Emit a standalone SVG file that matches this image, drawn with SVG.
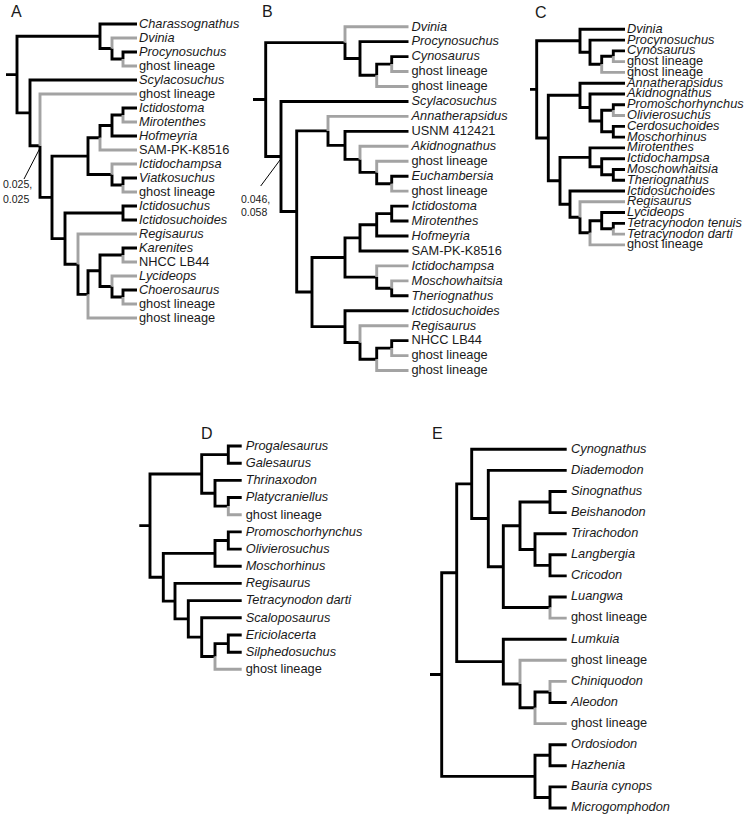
<svg xmlns="http://www.w3.org/2000/svg" width="748" height="816" viewBox="0 0 748 816">
<style>
.k{fill:none;stroke:#000;stroke-width:2.9;stroke-linejoin:miter;stroke-linecap:butt}
.g{fill:none;stroke:#a3a3a3;stroke-width:2.9;stroke-linejoin:miter;stroke-linecap:butt}
.ld{fill:none;stroke:#000;stroke-width:1}
text{font-family:"Liberation Sans",Arial,sans-serif;font-size:12.8px;fill:#1a1a1a}
.i{font-style:italic}
.lab{font-size:16px}
.num{font-size:10.5px}
</style>
<rect width="748" height="816" fill="#fff"/>
<g id="connectors">
<g id="conn-A">
<path class="k" d="M6 74.6H17 M17 74.6V36.25H100 M17 74.6V112.9H30 M100 36.25V24H137 M100 36.25V48.5H112 M112 48.5V59H123 M123 59V52H137 M30 112.9V80H137 M30 112.9V145.7H40 M40 145.7V197.4H52 M52 197.4V156.1H88 M52 197.4V238.6H65 M88 156.1V137.75H100 M88 156.1V174.5H112 M100 137.75V125.5H112 M112 125.5V115H123 M112 125.5V136H137 M123 115V108H137 M112 174.5V185H123 M123 185V178H137 M65 238.6V213H123 M65 238.6V264.2H78 M123 213V206H137 M123 213V220H137 M78 264.2V294.4H88 M88 294.4V270.75H100 M100 270.75V255H123 M100 270.75V286.5H112 M123 255V248H137 M112 286.5V297H123 M123 297V290H137"/>
<path class="g" d="M112 48.5V38H137 M123 59V66H137 M40 145.7V94H137 M100 137.75V150H137 M123 115V122H137 M112 174.5V164H137 M123 185V192H137 M78 264.2V234H137 M88 294.4V318H137 M123 255V262H137 M112 286.5V276H137 M123 297V304H137"/>
<path class="ld" d="M24 179L39.5 149"/>
</g>
<g id="conn-B">
<path class="k" d="M253 99.5H265.7 M265.7 99.5V42.6H345 M265.7 99.5V156.5H281 M345 42.6V58.5H360 M360 58.5V41.65H408.5 M360 58.5V75.3H376.7 M376.7 75.3V64.1H391.7 M391.7 64.1V56.6H408.5 M281 156.5V101.45H408.5 M281 156.5V211.5H296.7 M296.7 211.5V130.9H328 M296.7 211.5V292H312 M328 130.9V145.4H345 M345 145.4V131.35H408.5 M345 145.4V159.4H360 M360 159.4V172.4H376.7 M376.7 172.4V183.7H391.7 M391.7 183.7V176.2H408.5 M312 292V257.5H345 M312 292V326.6H345 M345 257.5V237.9H360 M345 257.5V277.1H376.7 M360 237.9V224.8H376.7 M360 237.9V250.95H408.5 M376.7 224.8V213.6H391.7 M376.7 224.8V236H408.5 M391.7 213.6V206.1H408.5 M391.7 213.6V221.05H408.5 M376.7 277.1V288.3H391.7 M391.7 288.3V295.8H408.5 M345 326.6V310.75H408.5 M345 326.6V342.5H360 M360 342.5V359.3H376.7 M376.7 359.3V348.1H391.7 M391.7 348.1V340.65H408.5"/>
<path class="g" d="M345 42.6V26.7H408.5 M376.7 75.3V86.5H408.5 M391.7 64.1V71.55H408.5 M328 130.9V116.4H408.5 M360 159.4V146.3H408.5 M376.7 172.4V161.25H408.5 M391.7 183.7V191.15H408.5 M376.7 277.1V265.9H408.5 M391.7 288.3V280.85H408.5 M360 342.5V325.7H408.5 M376.7 359.3V370.55H408.5 M391.7 348.1V355.6H408.5"/>
<path class="ld" d="M260.7 186L280 160"/>
</g>
<g id="conn-C">
<path class="k" d="M530 89.4H536.7 M536.7 89.4V40.8H580 M536.7 89.4V138H548.3 M580 40.8V29.3H625 M580 40.8V52.3H590 M590 52.3V40.08H625 M590 52.3V64.3H601.7 M601.7 64.3V56.25H613.3 M613.3 56.25V50.86H625 M548.3 138V95.3H580 M548.3 138V180.8H560 M580 95.3V83.2H625 M580 95.3V107.5H590 M590 107.5V94H625 M590 107.5V121H601.7 M601.7 121V110.2H613.3 M601.7 121V131.7H613.3 M613.3 110.2V104.78H625 M613.3 131.7V126.34H625 M613.3 131.7V137.12H625 M560 180.8V157.4H590 M560 180.8V204.2H570 M590 157.4V147.9H625 M590 157.4V166.8H601.7 M601.7 166.8V158.68H625 M601.7 166.8V174.8H613.3 M613.3 174.8V169.46H625 M613.3 174.8V180.24H625 M570 204.2V191.02H625 M570 204.2V217.3H580 M580 217.3V232.8H590 M590 232.8V220.7H601.7 M601.7 220.7V212.56H625 M601.7 220.7V228.7H613.3 M613.3 228.7V223.34H625"/>
<path class="g" d="M601.7 64.3V72.42H625 M613.3 56.25V61.64H625 M613.3 110.2V115.56H625 M580 217.3V201.8H625 M590 232.8V244.9H625 M613.3 228.7V234.12H625"/>
</g>
<g id="conn-D">
<path class="k" d="M139.3 525.6H150 M150 525.6V474H201.7 M150 525.6V577.3H163.3 M201.7 474V454.6H228.3 M201.7 474V493.3H215 M228.3 454.6V446H241.7 M228.3 454.6V463.2H241.7 M215 493.3V480.4H241.7 M215 493.3V506.1H228.3 M228.3 506.1V497.5H241.7 M163.3 577.3V553.4H215 M163.3 577.3V601.1H175 M215 553.4V540.5H228.3 M215 553.4V566.3H241.7 M228.3 540.5V531.9H241.7 M228.3 540.5V549.1H241.7 M175 601.1V583.4H241.7 M175 601.1V618.9H188.3 M188.3 618.9V600.6H241.7 M188.3 618.9V637.1H201.7 M201.7 637.1V617.8H241.7 M201.7 637.1V656.5H215 M215 656.5V643.6H228.3 M228.3 643.6V635H241.7 M228.3 643.6V652.2H241.7"/>
<path class="g" d="M228.3 506.1V514.7H241.7 M215 656.5V669.3H241.7"/>
</g>
<g id="conn-E">
<path class="k" d="M430 674.55H441.7 M441.7 674.55V572.75H456.7 M441.7 674.55V776.35H535 M456.7 572.75V483.9H471.7 M456.7 572.75V661.6H503.3 M471.7 483.9V449.3H566.7 M471.7 483.9V518.5H488.3 M488.3 518.5V470.4H566.7 M488.3 518.5V566.7H503.3 M503.3 566.7V525.8H520 M503.3 566.7V607.55H550 M520 525.8V502.05H550 M520 525.8V549.5H535 M550 502.05V491.5H566.7 M550 502.05V512.6H566.7 M535 549.5V533.7H566.7 M535 549.5V565.35H550 M550 565.35V554.8H566.7 M550 565.35V575.9H566.7 M550 607.55V597H566.7 M503.3 661.6V639.2H566.7 M503.3 661.6V684H520 M520 684V707.8H535 M535 707.8V691.95H550 M550 691.95V702.5H566.7 M535 776.35V755.25H550 M535 776.35V797.45H550 M550 755.25V744.7H566.7 M550 755.25V765.8H566.7 M550 797.45V786.9H566.7 M550 797.45V808H566.7"/>
<path class="g" d="M550 607.55V618.1H566.7 M520 684V660.3H566.7 M535 707.8V723.6H566.7 M550 691.95V681.4H566.7"/>
</g>
</g>
<g id="panel-labels">
<text class="lab" x="11" y="17">A</text>
<text class="lab" x="262" y="17">B</text>
<text class="lab" x="535" y="18">C</text>
<text class="lab" x="201" y="439">D</text>
<text class="lab" x="432" y="439">E</text>
</g>
<g id="support-values">
<g id="a-support"><text class="num" x="3" y="188">0.025,</text><text class="num" x="3" y="203">0.025</text></g>
<g id="b-support"><text class="num" x="241" y="203">0.046,</text><text class="num" x="241" y="216">0.058</text></g>
</g>
<g id="nodes-A">
<g id="a-charassognathus"><text class="i" x="139" y="28.3">Charassognathus</text></g>
<g id="a-dvinia"><text class="i" x="139" y="42.3">Dvinia</text></g>
<g id="a-procynosuchus"><text class="i" x="139" y="56.3">Procynosuchus</text></g>
<g id="a-ghost1"><text x="139" y="70.3">ghost lineage</text></g>
<g id="a-scylacosuchus"><text class="i" x="139" y="84.3">Scylacosuchus</text></g>
<g id="a-ghost2"><text x="139" y="98.3">ghost lineage</text></g>
<g id="a-ictidostoma"><text class="i" x="139" y="112.3">Ictidostoma</text></g>
<g id="a-mirotenthes"><text class="i" x="139" y="126.3">Mirotenthes</text></g>
<g id="a-hofmeyria"><text class="i" x="139" y="140.3">Hofmeyria</text></g>
<g id="a-sam"><text x="139" y="154.3">SAM-PK-K8516</text></g>
<g id="a-ictidochampsa"><text class="i" x="139" y="168.3">Ictidochampsa</text></g>
<g id="a-viatkosuchus"><text class="i" x="139" y="182.3">Viatkosuchus</text></g>
<g id="a-ghost3"><text x="139" y="196.3">ghost lineage</text></g>
<g id="a-ictidosuchus"><text class="i" x="139" y="210.3">Ictidosuchus</text></g>
<g id="a-ictidosuchoides"><text class="i" x="139" y="224.3">Ictidosuchoides</text></g>
<g id="a-regisaurus"><text class="i" x="139" y="238.3">Regisaurus</text></g>
<g id="a-karenites"><text class="i" x="139" y="252.3">Karenites</text></g>
<g id="a-nhcc"><text x="139" y="266.3">NHCC LB44</text></g>
<g id="a-lycideops"><text class="i" x="139" y="280.3">Lycideops</text></g>
<g id="a-choerosaurus"><text class="i" x="139" y="294.3">Choerosaurus</text></g>
<g id="a-ghost4"><text x="139" y="308.3">ghost lineage</text></g>
<g id="a-ghost5"><text x="139" y="322.3">ghost lineage</text></g>
</g>
<g id="nodes-B">
<g id="b-dvinia"><text class="i" x="411.5" y="30.5">Dvinia</text></g>
<g id="b-procynosuchus"><text class="i" x="411.5" y="45.45">Procynosuchus</text></g>
<g id="b-cynosaurus"><text class="i" x="411.5" y="60.4">Cynosaurus</text></g>
<g id="b-ghost1"><text x="411.5" y="75.35">ghost lineage</text></g>
<g id="b-ghost2"><text x="411.5" y="90.3">ghost lineage</text></g>
<g id="b-scylacosuchus"><text class="i" x="411.5" y="105.25">Scylacosuchus</text></g>
<g id="b-annatherapsidus"><text class="i" x="411.5" y="120.2">Annatherapsidus</text></g>
<g id="b-usnm"><text x="411.5" y="135.15">USNM 412421</text></g>
<g id="b-akidnognathus"><text class="i" x="411.5" y="150.1">Akidnognathus</text></g>
<g id="b-ghost3"><text x="411.5" y="165.05">ghost lineage</text></g>
<g id="b-euchambersia"><text class="i" x="411.5" y="180">Euchambersia</text></g>
<g id="b-ghost4"><text x="411.5" y="194.95">ghost lineage</text></g>
<g id="b-ictidostoma"><text class="i" x="411.5" y="209.9">Ictidostoma</text></g>
<g id="b-mirotenthes"><text class="i" x="411.5" y="224.85">Mirotenthes</text></g>
<g id="b-hofmeyria"><text class="i" x="411.5" y="239.8">Hofmeyria</text></g>
<g id="b-sam"><text x="411.5" y="254.75">SAM-PK-K8516</text></g>
<g id="b-ictidochampsa"><text class="i" x="411.5" y="269.7">Ictidochampsa</text></g>
<g id="b-moschowhaitsia"><text class="i" x="411.5" y="284.65">Moschowhaitsia</text></g>
<g id="b-theriognathus"><text class="i" x="411.5" y="299.6">Theriognathus</text></g>
<g id="b-ictidosuchoides"><text class="i" x="411.5" y="314.55">Ictidosuchoides</text></g>
<g id="b-regisaurus"><text class="i" x="411.5" y="329.5">Regisaurus</text></g>
<g id="b-nhcc"><text x="411.5" y="344.45">NHCC LB44</text></g>
<g id="b-ghost5"><text x="411.5" y="359.4">ghost lineage</text></g>
<g id="b-ghost6"><text x="411.5" y="374.35">ghost lineage</text></g>
</g>
<g id="nodes-C">
<g id="c-dvinia"><text class="i" x="627" y="32.8">Dvinia</text></g>
<g id="c-procynosuchus"><text class="i" x="627" y="43.58">Procynosuchus</text></g>
<g id="c-cynosaurus"><text class="i" x="627" y="54.36">Cynosaurus</text></g>
<g id="c-ghost1"><text x="627" y="65.14">ghost lineage</text></g>
<g id="c-ghost2"><text x="627" y="75.92">ghost lineage</text></g>
<g id="c-annatherapsidus"><text class="i" x="627" y="86.7">Annatherapsidus</text></g>
<g id="c-akidnognathus"><text class="i" x="627" y="97.48">Akidnognathus</text></g>
<g id="c-promoschorhynchus"><text class="i" x="627" y="108.26">Promoschorhynchus</text></g>
<g id="c-olivierosuchus"><text class="i" x="627" y="119.04">Olivierosuchus</text></g>
<g id="c-cerdosuchoides"><text class="i" x="627" y="129.82">Cerdosuchoides</text></g>
<g id="c-moschorhinus"><text class="i" x="627" y="140.6">Moschorhinus</text></g>
<g id="c-mirotenthes"><text class="i" x="627" y="151.38">Mirotenthes</text></g>
<g id="c-ictidochampsa"><text class="i" x="627" y="162.16">Ictidochampsa</text></g>
<g id="c-moschowhaitsia"><text class="i" x="627" y="172.94">Moschowhaitsia</text></g>
<g id="c-theriognathus"><text class="i" x="627" y="183.72">Theriognathus</text></g>
<g id="c-ictidosuchoides"><text class="i" x="627" y="194.5">Ictidosuchoides</text></g>
<g id="c-regisaurus"><text class="i" x="627" y="205.28">Regisaurus</text></g>
<g id="c-lycideops"><text class="i" x="627" y="216.06">Lycideops</text></g>
<g id="c-tetracynodon-tenuis"><text class="i" x="627" y="226.84">Tetracynodon tenuis</text></g>
<g id="c-tetracynodon-darti"><text class="i" x="627" y="237.62">Tetracynodon darti</text></g>
<g id="c-ghost3"><text x="627" y="248.4">ghost lineage</text></g>
</g>
<g id="nodes-D">
<g id="d-progalesaurus"><text class="i" x="245.7" y="449.8">Progalesaurus</text></g>
<g id="d-galesaurus"><text class="i" x="245.7" y="467">Galesaurus</text></g>
<g id="d-thrinaxodon"><text class="i" x="245.7" y="484.2">Thrinaxodon</text></g>
<g id="d-platycraniellus"><text class="i" x="245.7" y="501.3">Platycraniellus</text></g>
<g id="d-ghost1"><text x="245.7" y="518.5">ghost lineage</text></g>
<g id="d-promoschorhynchus"><text class="i" x="245.7" y="535.7">Promoschorhynchus</text></g>
<g id="d-olivierosuchus"><text class="i" x="245.7" y="552.9">Olivierosuchus</text></g>
<g id="d-moschorhinus"><text class="i" x="245.7" y="570.1">Moschorhinus</text></g>
<g id="d-regisaurus"><text class="i" x="245.7" y="587.2">Regisaurus</text></g>
<g id="d-tetracynodon-darti"><text class="i" x="245.7" y="604.4">Tetracynodon darti</text></g>
<g id="d-scaloposaurus"><text class="i" x="245.7" y="621.6">Scaloposaurus</text></g>
<g id="d-ericiolacerta"><text class="i" x="245.7" y="638.8">Ericiolacerta</text></g>
<g id="d-silphedosuchus"><text class="i" x="245.7" y="656">Silphedosuchus</text></g>
<g id="d-ghost2"><text x="245.7" y="673.1">ghost lineage</text></g>
</g>
<g id="nodes-E">
<g id="e-cynognathus"><text class="i" x="571" y="452.6">Cynognathus</text></g>
<g id="e-diademodon"><text class="i" x="571" y="473.7">Diademodon</text></g>
<g id="e-sinognathus"><text class="i" x="571" y="494.8">Sinognathus</text></g>
<g id="e-beishanodon"><text class="i" x="571" y="515.9">Beishanodon</text></g>
<g id="e-trirachodon"><text class="i" x="571" y="537">Trirachodon</text></g>
<g id="e-langbergia"><text class="i" x="571" y="558.1">Langbergia</text></g>
<g id="e-cricodon"><text class="i" x="571" y="579.2">Cricodon</text></g>
<g id="e-luangwa"><text class="i" x="571" y="600.3">Luangwa</text></g>
<g id="e-ghost1"><text x="571" y="621.4">ghost lineage</text></g>
<g id="e-lumkuia"><text class="i" x="571" y="642.5">Lumkuia</text></g>
<g id="e-ghost2"><text x="571" y="663.6">ghost lineage</text></g>
<g id="e-chiniquodon"><text class="i" x="571" y="684.7">Chiniquodon</text></g>
<g id="e-aleodon"><text class="i" x="571" y="705.8">Aleodon</text></g>
<g id="e-ghost3"><text x="571" y="726.9">ghost lineage</text></g>
<g id="e-ordosiodon"><text class="i" x="571" y="748">Ordosiodon</text></g>
<g id="e-hazhenia"><text class="i" x="571" y="769.1">Hazhenia</text></g>
<g id="e-bauria"><text class="i" x="571" y="790.2">Bauria cynops</text></g>
<g id="e-microgomphodon"><text class="i" x="571" y="811.3">Microgomphodon</text></g>
</g>
</svg>
